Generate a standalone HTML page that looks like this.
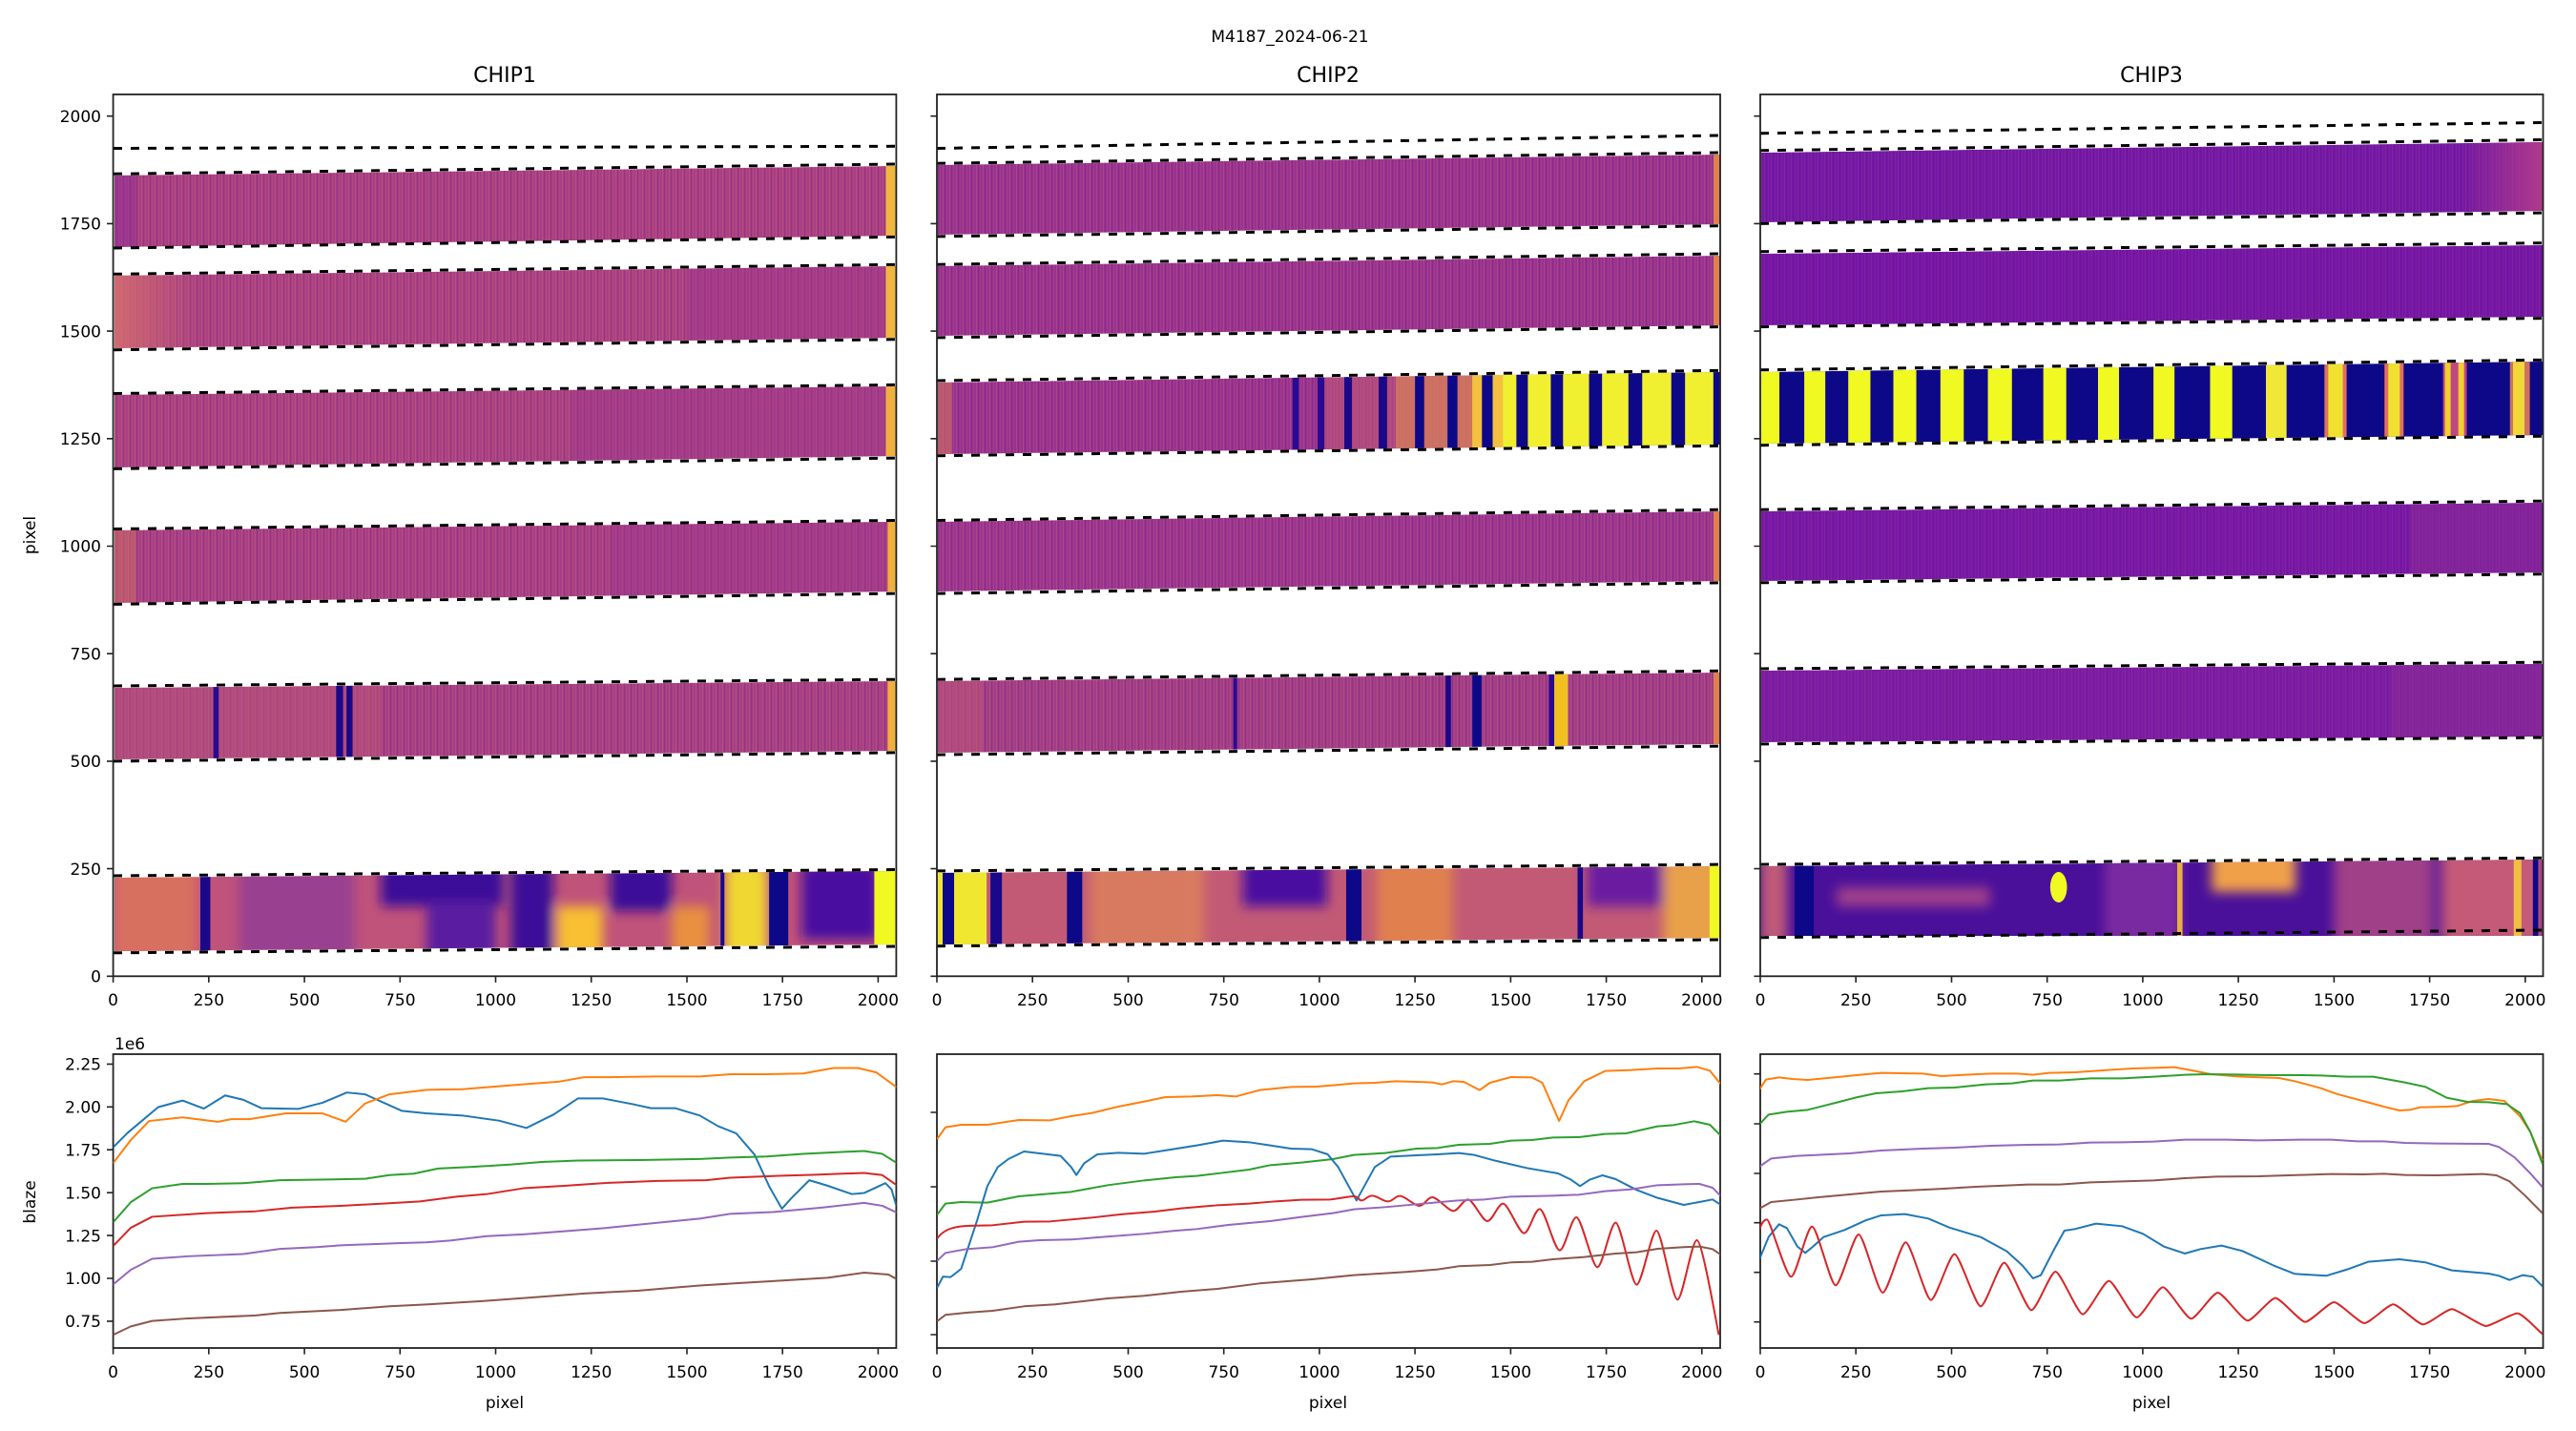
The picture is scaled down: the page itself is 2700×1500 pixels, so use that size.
<!DOCTYPE html>
<html><head><meta charset="utf-8"><style>
html,body{margin:0;padding:0;background:#fff}
svg{display:block}
text{font-family:"DejaVu Sans","Liberation Sans",sans-serif;fill:#000}
</style></head><body>
<svg width="2700" height="1500" viewBox="0 0 2700 1500" xmlns="http://www.w3.org/2000/svg">
<defs>
<pattern id="nz" width="7" height="5" patternUnits="userSpaceOnUse">
<rect x="1" y="0" width="1" height="5" fill="rgba(255,190,60,0.14)"/>
<rect x="3" y="0" width="1" height="5" fill="rgba(20,0,120,0.14)"/>
<rect x="5" y="0" width="1" height="5" fill="rgba(255,150,70,0.1)"/>
</pattern>
<linearGradient id="g3b1" x1="0" x2="1" y1="0" y2="0"><stop offset="0" stop-color="#b03a8a" stop-opacity="0"/><stop offset="1" stop-color="#b03a8a"/></linearGradient>
<linearGradient id="g1b2" x1="0" x2="1" y1="0" y2="0"><stop offset="0" stop-color="#d06a70"/><stop offset="1" stop-color="#d06a70" stop-opacity="0"/></linearGradient>
<filter id="bl" x="-20%" y="-50%" width="140%" height="200%"><feGaussianBlur stdDeviation="15 6"/></filter>
<clipPath id="c1b1"><polygon points="120,184 939,174 939,247 120,259"/></clipPath>
<clipPath id="c1b2"><polygon points="120,289 939,279 939,354 120,365"/></clipPath>
<clipPath id="c1b3"><polygon points="120,414 939,405 939,478 120,490"/></clipPath>
<clipPath id="c1b4"><polygon points="120,556 939,547 939,620 120,632"/></clipPath>
<clipPath id="c1b5"><polygon points="120,721 939,714 939,787 120,796"/></clipPath>
<clipPath id="c1b6"><polygon points="120,920 939,913 939,990 120,997"/></clipPath>
<clipPath id="c2b1"><polygon points="983,173 1803,162 1803,235 983,246"/></clipPath>
<clipPath id="c2b2"><polygon points="983,279 1803,268 1803,341 983,352"/></clipPath>
<clipPath id="c2b3"><polygon points="983,401 1803,390 1803,466 983,476"/></clipPath>
<clipPath id="c2b4"><polygon points="983,547 1803,536 1803,609 983,620"/></clipPath>
<clipPath id="c2b5"><polygon points="983,714 1803,705 1803,780 983,789"/></clipPath>
<clipPath id="c2b6"><polygon points="983,915 1803,908 1803,983 983,990"/></clipPath>
<clipPath id="c3b1"><polygon points="1846,160 2665,149 2665,221 1846,233"/></clipPath>
<clipPath id="c3b2"><polygon points="1846,266 2665,257 2665,332 1846,341"/></clipPath>
<clipPath id="c3b3"><polygon points="1846,390 2665,379 2665,456 1846,465"/></clipPath>
<clipPath id="c3b4"><polygon points="1846,536 2665,527 2665,600 1846,609"/></clipPath>
<clipPath id="c3b5"><polygon points="1846,703 2665,696 2665,772 1846,778"/></clipPath>
<clipPath id="c3b6"><polygon points="1846,908 2665,901 2665,981 1846,981"/></clipPath>
<clipPath id="p1"><rect x="118.6" y="1105" width="820.8" height="308"/></clipPath>
<clipPath id="p2"><rect x="982" y="1105" width="821" height="308"/></clipPath>
<clipPath id="p3"><rect x="1845" y="1105" width="820.5" height="308"/></clipPath>
</defs>

<text x="1352" y="44" font-size="17" text-anchor="middle">M4187_2024-06-21</text>
<text x="529" y="86" font-size="22" text-anchor="middle">CHIP1</text>
<text x="1392" y="86" font-size="22" text-anchor="middle">CHIP2</text>
<text x="2255" y="86" font-size="22" text-anchor="middle">CHIP3</text>

<!-- ============ CHIP1 bands ============ -->
<g clip-path="url(#c1b1)"><rect x="118" y="160" width="822" height="110" fill="#a93e85"/><rect x="118" y="160" width="822" height="110" fill="url(#nz)"/>
<g transform="translate(118.6,0) scale(0.4009,1)"><rect x="0" y="160" width="60" height="110" fill="#8a2a9a" opacity="0.4"/><rect x="2020" y="160" width="30" height="110" fill="#f0b840"/></g></g>
<g clip-path="url(#c1b2)"><rect x="118" y="270" width="822" height="110" fill="#ab4084"/><rect x="118" y="270" width="822" height="110" fill="url(#nz)"/>
<rect x="118" y="270" width="90" height="110" fill="url(#g1b2)"/>
<g transform="translate(118.6,0) scale(0.4009,1)"><rect x="1500" y="270" width="520" height="110" fill="#9a3290" opacity="0.4"/><rect x="2020" y="270" width="30" height="110" fill="#f0b840"/></g></g>
<g clip-path="url(#c1b3)"><rect x="118" y="395" width="822" height="110" fill="#aa4084"/><rect x="118" y="395" width="822" height="110" fill="url(#nz)"/>
<g transform="translate(118.6,0) scale(0.4009,1)"><rect x="1200" y="395" width="820" height="110" fill="#9c3490" opacity="0.4"/><rect x="2020" y="395" width="30" height="110" fill="#f0b040"/></g></g>
<g clip-path="url(#c1b4)"><rect x="118" y="540" width="822" height="110" fill="#a83e86"/><rect x="118" y="540" width="822" height="110" fill="url(#nz)"/>
<g transform="translate(118.6,0) scale(0.4009,1)"><rect x="0" y="540" width="60" height="110" fill="#d07060" opacity="0.5"/><rect x="1300" y="540" width="720" height="110" fill="#9c3490" opacity="0.4"/><rect x="2025" y="540" width="25" height="110" fill="#f0b040"/></g></g>
<g clip-path="url(#c1b5)"><rect x="118" y="705" width="822" height="110" fill="#a63e86"/><rect x="118" y="705" width="822" height="110" fill="url(#nz)"/>
<g transform="translate(118.6,0) scale(0.4009,1)"><rect x="0" y="705" width="700" height="110" fill="#bb5878" opacity="0.5"/><rect x="262" y="705" width="14" height="110" fill="#2a0a90"/><rect x="583" y="705" width="18" height="110" fill="#1a0888"/><rect x="610" y="705" width="16" height="110" fill="#1a0888"/><rect x="2025" y="705" width="25" height="110" fill="#f0b040"/></g></g>
<g clip-path="url(#c1b6)"><rect x="118" y="905" width="822" height="100" fill="#c0537a"/>
<g transform="translate(118.6,0) scale(0.4009,1)" filter="url(#bl)">
<rect x="0" y="905" width="220" height="100" fill="#d87060"/>
<rect x="330" y="905" width="300" height="100" fill="#8030a0" opacity="0.6"/>
<rect x="700" y="905" width="320" height="45" fill="#3a0c98"/>
<rect x="820" y="945" width="180" height="60" fill="#5a1aa0"/>
<rect x="1040" y="905" width="110" height="100" fill="#3a0c98"/>
<rect x="1160" y="950" width="120" height="55" fill="#f8c030"/>
<rect x="1300" y="905" width="160" height="50" fill="#3a0c98"/>
<rect x="1460" y="950" width="100" height="55" fill="#e89040"/>
<rect x="1600" y="905" width="110" height="100" fill="#f0d830"/>
<rect x="1800" y="905" width="200" height="80" fill="#4a10a0"/>
</g>
<g transform="translate(118.6,0) scale(0.4009,1)">
<rect x="228" y="905" width="26" height="100" fill="#1a0888"/>
<rect x="1588" y="905" width="10" height="100" fill="#1a0888"/>
<rect x="1715" y="905" width="50" height="100" fill="#0d0887"/>
<rect x="1990" y="905" width="60" height="100" fill="#f0f921"/>
</g></g>

<!-- ============ CHIP2 bands ============ -->
<g clip-path="url(#c2b1)"><rect x="982" y="150" width="822" height="110" fill="#9a3290"/><rect x="982" y="150" width="822" height="110" fill="url(#nz)"/>
<g transform="translate(982,0) scale(0.4009,1)"><rect x="2030" y="150" width="20" height="110" fill="#e08050"/></g></g>
<g clip-path="url(#c2b2)"><rect x="982" y="260" width="822" height="110" fill="#9a3290"/><rect x="982" y="260" width="822" height="110" fill="url(#nz)"/>
<g transform="translate(982,0) scale(0.4009,1)"><rect x="2030" y="260" width="20" height="110" fill="#e08050"/></g></g>
<g clip-path="url(#c2b3)"><rect x="982" y="380" width="822" height="110" fill="#9a3290"/><rect x="982" y="380" width="822" height="110" fill="url(#nz)"/>
<g transform="translate(982,0) scale(0.4009,1)">
<rect x="0" y="380" width="40" height="110" fill="#d07060" opacity="0.6"/>
<rect x="1000" y="380" width="400" height="110" fill="#c05878" opacity="0.6"/>
<rect x="1200" y="380" width="200" height="110" fill="#e08a50" opacity="0.6"/>
<rect x="1400" y="380" width="650" height="110" fill="#f0f030"/>
<rect x="1400" y="380" width="80" height="110" fill="#f4c040"/>
<rect x="930" y="380" width="16" height="110" fill="#2a0a90"/>
<rect x="995" y="380" width="18" height="110" fill="#2a0a90"/>
<rect x="1065" y="380" width="20" height="110" fill="#1a0888"/>
<rect x="1155" y="380" width="22" height="110" fill="#1a0888"/>
<rect x="1250" y="380" width="24" height="110" fill="#0d0887"/>
<rect x="1335" y="380" width="26" height="110" fill="#0d0887"/>
<rect x="1425" y="380" width="28" height="110" fill="#0d0887"/>
<rect x="1515" y="380" width="30" height="110" fill="#0d0887"/>
<rect x="1605" y="380" width="32" height="110" fill="#0d0887"/>
<rect x="1705" y="380" width="34" height="110" fill="#0d0887"/>
<rect x="1808" y="380" width="36" height="110" fill="#0d0887"/>
<rect x="1920" y="380" width="36" height="110" fill="#0d0887"/>
<rect x="2030" y="380" width="20" height="110" fill="#0d0887"/>
</g></g>
<g clip-path="url(#c2b4)"><rect x="982" y="525" width="822" height="110" fill="#9c3490"/><rect x="982" y="525" width="822" height="110" fill="url(#nz)"/>
<g transform="translate(982,0) scale(0.4009,1)"><rect x="2030" y="525" width="20" height="110" fill="#e08050"/></g></g>
<g clip-path="url(#c2b5)"><rect x="982" y="695" width="822" height="110" fill="#a23c88"/><rect x="982" y="695" width="822" height="110" fill="url(#nz)"/>
<g transform="translate(982,0) scale(0.4009,1)">
<rect x="0" y="695" width="120" height="110" fill="#c05878" opacity="0.5"/>
<rect x="775" y="695" width="10" height="110" fill="#2a0a90"/>
<rect x="1330" y="695" width="14" height="110" fill="#1a0888"/>
<rect x="1400" y="695" width="24" height="110" fill="#0d0887"/>
<rect x="1600" y="695" width="14" height="110" fill="#2a0a90"/>
<rect x="1614" y="695" width="36" height="110" fill="#f0c020"/>
<rect x="2030" y="695" width="20" height="110" fill="#e08050"/>
</g></g>
<g clip-path="url(#c2b6)"><rect x="982" y="900" width="822" height="100" fill="#c25a76"/>
<g transform="translate(982,0) scale(0.4009,1)" filter="url(#bl)">
<rect x="400" y="900" width="300" height="100" fill="#d87a60"/>
<rect x="800" y="900" width="220" height="50" fill="#4a10a0"/>
<rect x="1150" y="900" width="200" height="100" fill="#e08050"/>
<rect x="1700" y="900" width="220" height="50" fill="#6a1ca0"/>
<rect x="1900" y="900" width="150" height="100" fill="#e8a048"/>
</g>
<g transform="translate(982,0) scale(0.4009,1)">
<rect x="0" y="900" width="130" height="100" fill="#f0e830"/>
<rect x="15" y="900" width="30" height="100" fill="#0d0887"/>
<rect x="140" y="900" width="30" height="100" fill="#1a0888"/>
<rect x="340" y="900" width="40" height="100" fill="#0d0887"/>
<rect x="1070" y="900" width="40" height="100" fill="#0d0887"/>
<rect x="1675" y="900" width="14" height="100" fill="#1a0888"/>
<rect x="2020" y="900" width="30" height="100" fill="#f0f921"/>
</g></g>

<!-- ============ CHIP3 bands ============ -->
<g clip-path="url(#c3b1)"><rect x="1845" y="140" width="822" height="110" fill="#7418a6"/><rect x="1845" y="140" width="822" height="110" fill="url(#nz)" opacity="0.6"/>
<rect x="2580" y="140" width="86" height="110" fill="url(#g3b1)"/></g>
<g clip-path="url(#c3b2)"><rect x="1845" y="250" width="822" height="100" fill="#7616a6"/><rect x="1845" y="250" width="822" height="100" fill="url(#nz)" opacity="0.5"/></g>
<g clip-path="url(#c3b3)"><rect x="1845" y="370" width="822" height="100" fill="#0d0887"/>
<g transform="translate(1845,0) scale(0.4009,1)">
<rect x="0" y="370" width="50" height="100" fill="#f0f921"/>
<rect x="115" y="370" width="55" height="100" fill="#f0f921"/>
<rect x="230" y="370" width="58" height="100" fill="#f0f921"/>
<rect x="348" y="370" width="60" height="100" fill="#f0f921"/>
<rect x="471" y="370" width="61" height="100" fill="#f0f921"/>
<rect x="595" y="370" width="63" height="100" fill="#f0f921"/>
<rect x="740" y="370" width="60" height="100" fill="#f0f921"/>
<rect x="883" y="370" width="55" height="100" fill="#f0f921"/>
<rect x="1028" y="370" width="55" height="100" fill="#f0f921"/>
<rect x="1176" y="370" width="58" height="100" fill="#f0f921"/>
<rect x="1322" y="370" width="54" height="100" fill="#f0e838"/>
<rect x="1475" y="370" width="58" height="100" fill="#e07060"/>
<rect x="1485" y="370" width="38" height="100" fill="#f0e030"/>
<rect x="1632" y="370" width="50" height="100" fill="#e07060"/>
<rect x="1642" y="370" width="30" height="100" fill="#f0e030"/>
<rect x="1785" y="370" width="62" height="100" fill="#c04880"/>
<rect x="1790" y="370" width="15" height="100" fill="#f0d030"/>
<rect x="1825" y="370" width="15" height="100" fill="#f0d030"/>
<rect x="1960" y="370" width="52" height="100" fill="#d07060"/>
<rect x="1968" y="370" width="30" height="100" fill="#f0d838"/>
</g></g>
<g clip-path="url(#c3b4)"><rect x="1845" y="515" width="822" height="100" fill="#7818a6"/><rect x="1845" y="515" width="822" height="100" fill="url(#nz)" opacity="0.5"/>
<g transform="translate(1845,0) scale(0.4009,1)"><rect x="1700" y="515" width="350" height="100" fill="#8a2c96" opacity="0.6"/></g></g>
<g clip-path="url(#c3b5)"><rect x="1845" y="685" width="822" height="100" fill="#7c1ca4"/><rect x="1845" y="685" width="822" height="100" fill="url(#nz)" opacity="0.5"/>
<g transform="translate(1845,0) scale(0.4009,1)"><rect x="1650" y="685" width="400" height="100" fill="#8a2c96" opacity="0.6"/></g></g>
<g clip-path="url(#c3b6)"><rect x="1845" y="890" width="822" height="100" fill="#4a109a"/>
<g transform="translate(1845,0) scale(0.4009,1)" filter="url(#bl)">
<rect x="0" y="890" width="70" height="100" fill="#c05a78"/>
<rect x="200" y="930" width="400" height="20" fill="#a0408a"/>
<rect x="900" y="890" width="200" height="100" fill="#7a2aa0"/>
<rect x="1180" y="890" width="220" height="45" fill="#f0a048"/>
<rect x="1500" y="890" width="260" height="100" fill="#a04088"/>
<rect x="1780" y="890" width="270" height="100" fill="#c45a78"/>
</g>
<g transform="translate(1845,0) scale(0.4009,1)">
<rect x="90" y="890" width="50" height="100" fill="#0d0887"/>
<ellipse cx="780" cy="930" rx="22" ry="16" fill="#f0f921"/>
<rect x="1090" y="890" width="14" height="100" fill="#e8b040"/>
<rect x="1970" y="890" width="20" height="100" fill="#f0c040"/>
<rect x="2020" y="890" width="14" height="100" fill="#0d0887"/>
</g></g>

<!-- dashed trace lines -->
<g stroke="#000" stroke-width="3" stroke-dasharray="9 9" fill="none">
<line x1="119" y1="155.5" x2="939" y2="153.3"/>
<line x1="119" y1="182.3" x2="939" y2="172"/><line x1="119" y1="260" x2="939" y2="248.3"/>
<line x1="119" y1="287.3" x2="939" y2="277.3"/><line x1="119" y1="366.7" x2="939" y2="355.7"/>
<line x1="119" y1="412.5" x2="939" y2="403.4"/><line x1="119" y1="491.4" x2="939" y2="480.1"/>
<line x1="119" y1="554.5" x2="939" y2="545.5"/><line x1="119" y1="633.4" x2="939" y2="622.1"/>
<line x1="119" y1="719" x2="939" y2="712.2"/><line x1="119" y1="797.9" x2="939" y2="788.9"/>
<line x1="119" y1="918" x2="939" y2="911.5"/><line x1="119" y1="998.8" x2="939" y2="992"/>

<line x1="982" y1="155.5" x2="1803" y2="142"/>
<line x1="982" y1="171.3" x2="1803" y2="160"/><line x1="982" y1="247.9" x2="1803" y2="236.7"/>
<line x1="982" y1="277.2" x2="1803" y2="266"/><line x1="982" y1="353.9" x2="1803" y2="342.6"/>
<line x1="982" y1="399" x2="1803" y2="388.3"/><line x1="982" y1="477.7" x2="1803" y2="467.3"/>
<line x1="982" y1="545.5" x2="1803" y2="534.2"/><line x1="982" y1="622.1" x2="1803" y2="610.8"/>
<line x1="982" y1="712.2" x2="1803" y2="703.2"/><line x1="982" y1="791.1" x2="1803" y2="782.1"/>
<line x1="982" y1="912.9" x2="1803" y2="906.1"/><line x1="982" y1="991.7" x2="1803" y2="985"/>

<line x1="1845" y1="139.7" x2="2665" y2="128.5"/>
<line x1="1845" y1="157.8" x2="2665" y2="146.5"/><line x1="1845" y1="234.4" x2="2665" y2="223.1"/>
<line x1="1845" y1="263.7" x2="2665" y2="254.7"/><line x1="1845" y1="342.6" x2="2665" y2="333.6"/>
<line x1="1845" y1="387.7" x2="2665" y2="377.3"/><line x1="1845" y1="466.7" x2="2665" y2="457.3"/>
<line x1="1845" y1="534.2" x2="2665" y2="525.2"/><line x1="1845" y1="610.8" x2="2665" y2="601.8"/>
<line x1="1845" y1="701" x2="2665" y2="694.2"/><line x1="1845" y1="779.9" x2="2665" y2="773.1"/>
<line x1="1845" y1="906.1" x2="2665" y2="899.3"/><line x1="1845" y1="982.7" x2="2665" y2="975"/>
</g>

<!-- axes boxes -->
<g fill="none" stroke="#222" stroke-width="1.8">
<rect x="118.6" y="99" width="820.8" height="924.3"/>
<rect x="982" y="99" width="821" height="924.3"/>
<rect x="1845" y="99" width="820.5" height="924.3"/>
<rect x="118.6" y="1105" width="820.8" height="308"/>
<rect x="982" y="1105" width="821" height="308"/>
<rect x="1845" y="1105" width="820.5" height="308"/>
</g>

<!-- ticks -->
<g stroke="#222" stroke-width="1.6">
<path d="M112,1023.3h6.6M112,910.6h6.6M112,797.9h6.6M112,685.2h6.6M112,572.5h6.6M112,459.8h6.6M112,347.1h6.6M112,234.4h6.6M112,121.7h6.6"/>
<path d="M975.4,1023.3h6.6M975.4,910.6h6.6M975.4,797.9h6.6M975.4,685.2h6.6M975.4,572.5h6.6M975.4,459.8h6.6M975.4,347.1h6.6M975.4,234.4h6.6M975.4,121.7h6.6"/>
<path d="M1838.4,1023.3h6.6M1838.4,910.6h6.6M1838.4,797.9h6.6M1838.4,685.2h6.6M1838.4,572.5h6.6M1838.4,459.8h6.6M1838.4,347.1h6.6M1838.4,234.4h6.6M1838.4,121.7h6.6"/>
<path d="M118.6,1023.3v6.6M218.8,1023.3v6.6M319.1,1023.3v6.6M419.3,1023.3v6.6M519.5,1023.3v6.6M619.7,1023.3v6.6M720,1023.3v6.6M820.2,1023.3v6.6M920.4,1023.3v6.6"/>
<path d="M982,1023.3v6.6M1082.2,1023.3v6.6M1182.5,1023.3v6.6M1282.7,1023.3v6.6M1382.9,1023.3v6.6M1483.1,1023.3v6.6M1583.4,1023.3v6.6M1683.6,1023.3v6.6M1783.8,1023.3v6.6"/>
<path d="M1845,1023.3v6.6M1945.2,1023.3v6.6M2045.5,1023.3v6.6M2145.7,1023.3v6.6M2245.9,1023.3v6.6M2346.1,1023.3v6.6M2446.4,1023.3v6.6M2546.6,1023.3v6.6M2646.8,1023.3v6.6"/>
<path d="M118.6,1413v6.6M218.8,1413v6.6M319.1,1413v6.6M419.3,1413v6.6M519.5,1413v6.6M619.7,1413v6.6M720,1413v6.6M820.2,1413v6.6M920.4,1413v6.6"/>
<path d="M982,1413v6.6M1082.2,1413v6.6M1182.5,1413v6.6M1282.7,1413v6.6M1382.9,1413v6.6M1483.1,1413v6.6M1583.4,1413v6.6M1683.6,1413v6.6M1783.8,1413v6.6"/>
<path d="M1845,1413v6.6M1945.2,1413v6.6M2045.5,1413v6.6M2145.7,1413v6.6M2245.9,1413v6.6M2346.1,1413v6.6M2446.4,1413v6.6M2546.6,1413v6.6M2646.8,1413v6.6"/>
<path d="M112,1115.4h6.6M112,1160.3h6.6M112,1205.2h6.6M112,1250.2h6.6M112,1295.1h6.6M112,1340h6.6M112,1384.9h6.6"/>
<path d="M975.4,1166h6.6M975.4,1244h6.6M975.4,1322h6.6M975.4,1399h6.6"/>
<path d="M1838.4,1125.7h6.6M1838.4,1178h6.6M1838.4,1230h6.6M1838.4,1281.7h6.6M1838.4,1333.7h6.6M1838.4,1385.7h6.6"/>
</g>

<!-- tick labels -->
<g font-size="17" text-anchor="end">
<text x="106" y="1029.5">0</text><text x="106" y="916.8">250</text><text x="106" y="804.1">500</text><text x="106" y="691.4">750</text><text x="106" y="578.7">1000</text><text x="106" y="466">1250</text><text x="106" y="353.3">1500</text><text x="106" y="240.6">1750</text><text x="106" y="127.9">2000</text>
<text x="106" y="1121.6">2.25</text><text x="106" y="1166.5">2.00</text><text x="106" y="1211.4">1.75</text><text x="106" y="1256.4">1.50</text><text x="106" y="1301.3">1.25</text><text x="106" y="1346.2">1.00</text><text x="106" y="1391.1">0.75</text>
</g>
<g font-size="17" text-anchor="middle">
<text x="118.6" y="1054">0</text><text x="218.8" y="1054">250</text><text x="319.1" y="1054">500</text><text x="419.3" y="1054">750</text><text x="519.5" y="1054">1000</text><text x="619.7" y="1054">1250</text><text x="720" y="1054">1500</text><text x="820.2" y="1054">1750</text><text x="920.4" y="1054">2000</text>
<text x="982" y="1054">0</text><text x="1082.2" y="1054">250</text><text x="1182.5" y="1054">500</text><text x="1282.7" y="1054">750</text><text x="1382.9" y="1054">1000</text><text x="1483.1" y="1054">1250</text><text x="1583.4" y="1054">1500</text><text x="1683.6" y="1054">1750</text><text x="1783.8" y="1054">2000</text>
<text x="1845" y="1054">0</text><text x="1945.2" y="1054">250</text><text x="2045.5" y="1054">500</text><text x="2145.7" y="1054">750</text><text x="2245.9" y="1054">1000</text><text x="2346.1" y="1054">1250</text><text x="2446.4" y="1054">1500</text><text x="2546.6" y="1054">1750</text><text x="2646.8" y="1054">2000</text>
<text x="118.6" y="1444">0</text><text x="218.8" y="1444">250</text><text x="319.1" y="1444">500</text><text x="419.3" y="1444">750</text><text x="519.5" y="1444">1000</text><text x="619.7" y="1444">1250</text><text x="720" y="1444">1500</text><text x="820.2" y="1444">1750</text><text x="920.4" y="1444">2000</text>
<text x="982" y="1444">0</text><text x="1082.2" y="1444">250</text><text x="1182.5" y="1444">500</text><text x="1282.7" y="1444">750</text><text x="1382.9" y="1444">1000</text><text x="1483.1" y="1444">1250</text><text x="1583.4" y="1444">1500</text><text x="1683.6" y="1444">1750</text><text x="1783.8" y="1444">2000</text>
<text x="1845" y="1444">0</text><text x="1945.2" y="1444">250</text><text x="2045.5" y="1444">500</text><text x="2145.7" y="1444">750</text><text x="2245.9" y="1444">1000</text><text x="2346.1" y="1444">1250</text><text x="2446.4" y="1444">1500</text><text x="2546.6" y="1444">1750</text><text x="2646.8" y="1444">2000</text>
<text x="529" y="1476">pixel</text><text x="1392" y="1476">pixel</text><text x="2255" y="1476">pixel</text>
</g>
<text x="120" y="1100" font-size="17">1e6</text>
<text transform="translate(37,561) rotate(-90)" font-size="17" text-anchor="middle">pixel</text>
<text transform="translate(37,1260) rotate(-90)" font-size="17" text-anchor="middle">blaze</text>

<!-- ============ blaze curves ============ -->
<g clip-path="url(#p1)"><g transform="translate(0,900) scale(0.6378,0.3831)" fill="none" stroke-linejoin="round">
<polyline vector-effect="non-scaling-stroke" stroke-width="2" stroke="#1f77b4" points="186,790 210,750 260,680 300,662 335,684 370,648 400,660 430,683 490,685 530,668 570,640 600,645 660,690 700,697 760,703 820,717 865,737 910,700 950,656 990,656 1040,672 1070,683 1110,683 1150,703 1180,732 1210,752 1240,810 1265,900 1285,958 1300,930 1330,880 1360,895 1400,918 1420,915 1455,888 1465,905 1473,950"/>
<polyline vector-effect="non-scaling-stroke" stroke-width="2" stroke="#ff7f0e" points="186,833 215,770 245,718 300,708 358,720 380,713 410,713 470,697 530,697 568,720 600,670 640,645 700,633 720,632 760,631 820,623 880,615 920,610 960,598 1000,598 1080,596 1150,596 1200,590 1260,590 1320,588 1370,573 1410,573 1440,585 1473,625"/>
<polyline vector-effect="non-scaling-stroke" stroke-width="2" stroke="#2ca02c" points="186,995 215,940 250,902 300,890 340,890 400,888 460,880 540,878 600,876 640,866 680,862 720,848 780,843 840,837 890,830 950,826 1050,825 1150,822 1200,818 1260,815 1320,808 1380,803 1420,800 1450,808 1473,832"/>
<polyline vector-effect="non-scaling-stroke" stroke-width="2" stroke="#d62728" points="186,1060 215,1010 250,980 340,970 420,965 480,955 560,950 640,943 690,938 750,925 800,918 860,902 930,895 990,888 1080,882 1160,880 1200,873 1280,868 1340,865 1420,860 1450,866 1473,893"/>
<polyline vector-effect="non-scaling-stroke" stroke-width="2" stroke="#9467bd" points="186,1165 215,1125 250,1095 310,1088 400,1082 460,1068 520,1063 560,1058 660,1052 700,1050 740,1045 800,1033 860,1028 940,1018 1000,1010 1070,998 1150,985 1200,972 1270,967 1350,955 1420,942 1450,950 1473,968"/>
<polyline vector-effect="non-scaling-stroke" stroke-width="2" stroke="#8c564b" points="186,1303 215,1280 250,1265 310,1258 420,1250 460,1243 560,1235 640,1225 700,1220 800,1210 880,1200 960,1190 1050,1182 1100,1175 1150,1168 1200,1163 1280,1155 1360,1147 1420,1133 1460,1138 1473,1150"/>
</g></g>

<g clip-path="url(#p2)"><g transform="translate(980,1080) scale(0.5488,0.3333)" fill="none" stroke-linejoin="round">
<polyline vector-effect="non-scaling-stroke" stroke-width="2" stroke="#ff7f0e" points="4,342 20,305 50,297 100,297 160,282 220,283 260,270 300,260 350,240 400,224 440,210 490,208 540,204 575,208 620,188 680,178 730,177 800,167 840,165 880,160 920,162 950,164 968,170 990,160 1010,162 1040,188 1060,165 1100,147 1140,148 1160,165 1180,240 1192,285 1210,220 1240,160 1280,128 1330,125 1380,120 1420,120 1455,115 1480,127 1500,168"/>
<polyline vector-effect="non-scaling-stroke" stroke-width="2" stroke="#2ca02c" points="4,580 20,545 50,540 100,542 160,522 260,508 330,487 400,472 460,462 500,458 550,448 600,438 640,424 700,416 760,405 800,392 860,386 920,372 960,370 1000,360 1060,357 1100,347 1140,345 1180,337 1230,336 1280,326 1320,324 1380,302 1410,298 1450,286 1480,297 1500,330"/>
<polyline vector-effect="non-scaling-stroke" stroke-width="2" stroke="#1f77b4" points="4,810 15,775 30,776 50,750 80,600 100,490 120,430 140,405 170,381 240,395 260,430 270,455 285,418 310,390 350,385 400,388 450,375 500,362 550,347 600,352 640,362 680,372 720,374 750,390 770,430 790,490 805,535 820,490 840,430 870,397 920,393 960,390 1000,386 1030,392 1070,410 1130,433 1190,450 1215,470 1232,490 1250,470 1275,456 1300,468 1340,502 1380,527 1430,549 1460,540 1485,532 1500,548"/>
<path vector-effect="non-scaling-stroke" stroke-width="2" stroke="#d62728" d="M4,655 C15,630 30,618 60,615 L110,613 170,602 220,601 300,589 360,578 420,570 470,560 540,550 600,545 650,538 700,533 755,532 C770,530 790,522 800,522 S808,535 815,535 S825,520 835,520 S855,538 865,538 S878,521 888,521 S915,552 925,552 S940,525 950,525 S980,568 990,568 S1008,532 1018,532 S1045,600 1055,600 S1075,545 1085,545 S1115,638 1125,638 S1145,562 1155,562 S1183,692 1193,692 S1215,588 1225,588 S1255,745 1265,745 S1290,605 1300,605 S1330,800 1340,800 S1368,630 1378,630 S1408,847 1418,847 S1445,660 1455,660 S1490,900 1497,958"/>
<polyline vector-effect="non-scaling-stroke" stroke-width="2" stroke="#9467bd" points="4,725 20,700 60,688 110,682 160,665 200,660 260,658 320,650 400,640 460,630 500,625 560,612 640,600 700,587 760,575 800,563 860,556 920,547 1000,535 1050,532 1100,523 1180,520 1230,517 1280,506 1330,500 1380,487 1430,484 1460,483 1485,495 1500,520"/>
<polyline vector-effect="non-scaling-stroke" stroke-width="2" stroke="#8c564b" points="4,915 20,895 60,888 110,882 170,868 230,862 330,843 400,835 470,822 540,813 620,796 720,783 800,770 900,760 960,752 1000,742 1060,738 1100,730 1140,728 1180,720 1240,713 1300,702 1340,698 1380,687 1430,682 1460,680 1485,688 1500,705"/>
</g></g>

<g clip-path="url(#p3)"><g transform="translate(1840,1080) scale(0.5488,0.3333)" fill="none" stroke-linejoin="round">
<polyline vector-effect="non-scaling-stroke" stroke-width="2" stroke="#ff7f0e" points="8,185 20,155 45,148 70,153 100,156 150,148 200,140 240,134 320,136 355,144 400,140 450,136 500,136 530,140 560,134 610,132 680,124 720,120 760,118 800,116 830,125 870,138 920,145 1000,150 1030,160 1080,182 1110,200 1160,222 1200,240 1230,252 1250,250 1270,242 1320,240 1340,238 1370,222 1400,216 1430,222 1460,270 1480,320 1503,410"/>
<polyline vector-effect="non-scaling-stroke" stroke-width="2" stroke="#2ca02c" points="8,295 25,265 60,256 100,250 160,225 190,212 230,198 280,192 330,182 380,180 440,170 490,167 530,158 580,158 640,151 700,151 760,146 820,140 860,138 920,139 980,141 1040,141 1080,142 1130,146 1180,146 1200,152 1240,164 1280,178 1320,212 1360,225 1400,226 1435,232 1460,260 1480,320 1503,420"/>
<polyline vector-effect="non-scaling-stroke" stroke-width="2" stroke="#9467bd" points="8,428 30,403 80,395 180,387 240,378 320,372 380,369 450,363 520,360 580,359 640,353 700,352 760,350 820,344 900,344 960,346 1040,344 1100,344 1150,349 1200,349 1240,354 1300,356 1400,357 1420,367 1450,400 1480,450 1503,493"/>
<polyline vector-effect="non-scaling-stroke" stroke-width="2" stroke="#8c564b" points="8,560 30,540 80,532 120,525 180,516 240,507 300,503 360,498 420,492 480,488 520,485 580,485 640,478 700,475 760,472 820,465 880,460 960,459 1040,455 1100,452 1160,453 1200,451 1240,455 1300,456 1390,452 1415,456 1440,475 1470,520 1503,575"/>
<polyline vector-effect="non-scaling-stroke" stroke-width="2" stroke="#1f77b4" points="8,718 25,650 45,610 60,622 80,680 95,700 110,680 130,650 170,628 210,598 240,582 285,578 330,592 370,620 430,650 480,695 510,740 530,780 545,770 570,690 590,630 610,625 650,608 700,616 740,640 780,680 820,702 850,688 890,677 930,694 990,740 1030,766 1090,772 1130,752 1170,728 1230,720 1280,730 1330,755 1400,765 1420,772 1440,785 1465,770 1485,775 1503,805"/>
<path vector-effect="non-scaling-stroke" stroke-width="2" stroke="#d62728" d="M8,625 C12,605 16,595 22,595 S58,775 68,775 S98,617 108,617 S143,802 153,802 S187,642 197,642 S233,825 243,825 S277,667 287,667 S325,848 335,848 S370,704 380,704 S420,868 430,868 S465,731 475,731 S517,880 527,880 S563,759 573,759 S615,893 625,893 S665,788 675,788 S718,903 728,903 S768,808 778,808 S822,907 832,907 S873,825 883,825 S930,913 940,913 S983,842 993,842 S1040,917 1050,917 S1095,855 1105,855 S1153,921 1163,921 S1208,862 1218,862 S1265,925 1275,925 S1320,877 1330,877 S1385,930 1395,930 S1445,890 1455,890 S1495,945 1503,955"/>
</g></g>
</svg>
</body></html>
